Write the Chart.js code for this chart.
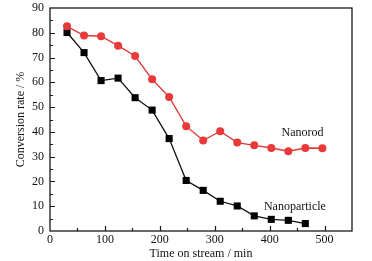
<!DOCTYPE html>
<html>
<head>
<meta charset="utf-8">
<script src="https://cdn.jsdelivr.net/npm/chart.js@4"></script>
<style>
  html, body { margin: 0; padding: 0; background: #fff; }
  #wrap { width: 372px; height: 261px; }
</style>
</head>
<body>
<div id="wrap"><canvas id="conv"></canvas></div>
<script>
var timeMin = [31, 62, 93, 124, 155, 186, 217, 248, 279, 310, 341, 372, 403, 434, 465, 496];
var nanorod = [82.6, 78.9, 78.6, 74.8, 70.6, 61.2, 54.1, 42.3, 36.5, 40.3, 35.7, 34.6, 33.5, 32.2, 33.5, 33.4];
var nanoparticle = [80.1, 72.0, 60.7, 61.7, 53.8, 48.8, 37.3, 20.4, 16.4, 12.0, 10.1, 6.1, 4.7, 4.3, 3.0];
var xTicks = [0, 100, 200, 300, 400, 500];
var yTicks = [0, 10, 20, 30, 40, 50, 60, 70, 80, 90];
var seriesLabels = ['Nanorod', 'Nanoparticle'];

var font = "'Liberation Serif', 'Times New Roman', serif";

function pairs(xs, ys) {
    return ys.map(function(v, i) { return {x: xs[i], y: v}; });
}

// frame, inside ticks and the two curve labels
var framePlugin = {
    id: 'frame',
    afterDraw: function(chart) {
        var ctx = chart.ctx, a = chart.chartArea;
        var xs = chart.scales.x, ys = chart.scales.y;
        ctx.save();
        ctx.strokeStyle = '#1a1a1a';
        ctx.lineWidth = 1.3;
        ctx.strokeRect(a.left, a.top, a.right - a.left, a.bottom - a.top);
        ctx.lineWidth = 1.2;
        ctx.beginPath();
        for (var v = 50; v <= 500; v += 50) {
            var px = Math.round(xs.getPixelForValue(v)) + 0.5;
            var len = (v % 100 === 0) ? 5 : 3;
            ctx.moveTo(px, a.bottom);
            ctx.lineTo(px, a.bottom - len);
        }
        for (var w = 5; w < 90; w += 5) {
            var py = Math.round(ys.getPixelForValue(w)) + 0.5;
            var l = (w % 10 === 0) ? 5 : 3;
            ctx.moveTo(a.left, py);
            ctx.lineTo(a.left + l, py);
        }
        ctx.stroke();

        ctx.fillStyle = '#111';
        ctx.font = '12px ' + font;
        ctx.textAlign = 'center';
        ctx.textBaseline = 'middle';
        ctx.fillText(seriesLabels[0], xs.getPixelForValue(460), ys.getPixelForValue(39.6));
        ctx.fillText(seriesLabels[1], xs.getPixelForValue(446), ys.getPixelForValue(9.8));
        ctx.restore();
    }
};

new Chart(document.getElementById('conv'), {
    type: 'line',
    plugins: [framePlugin],
    data: {
        datasets: [{
            label: seriesLabels[0],
            data: pairs(timeMin, nanorod),
            borderColor: '#e03434',
            backgroundColor: '#e83a3a',
            borderWidth: 1.3,
            pointStyle: 'circle',
            pointRadius: 4,
            pointBorderWidth: 0,
            tension: 0
        }, {
            label: seriesLabels[1],
            data: pairs(timeMin, nanoparticle),
            borderColor: '#111',
            backgroundColor: '#000',
            borderWidth: 1.3,
            pointStyle: 'rect',
            pointRadius: 5,
            pointBorderWidth: 0,
            tension: 0
        }]
    },
    options: {
        responsive: true,
        maintainAspectRatio: false,
        animation: false,
        layout: { padding: { top: 8, right: 20, left: 0, bottom: 0 } },
        plugins: {
            legend: { display: false },
            tooltip: { enabled: false }
        },
        scales: {
            x: {
                type: 'linear',
                min: 0,
                max: 550,
                afterBuildTicks: function(s) { s.ticks = xTicks.map(function(v) { return {value: v}; }); },
                afterFit: function(s) { s.height = 30; s.paddingLeft = 0; s.paddingRight = 0; },
                grid: { display: false, drawTicks: false },
                border: { display: false },
                ticks: { color: '#111', padding: 2, maxRotation: 0, font: { family: font, size: 12 } },
                title: { display: true, text: 'Time on stream / min', color: '#111', padding: { top: 0, bottom: 0 },
                    font: { family: font, size: 12 } }
            },
            y: {
                type: 'linear',
                min: 0,
                max: 90,
                afterBuildTicks: function(s) { s.ticks = yTicks.map(function(v) { return {value: v}; }); },
                afterFit: function(s) { s.width = 50; s.paddingTop = 0; s.paddingBottom = 0; },
                grid: { display: false, drawTicks: false },
                border: { display: false },
                ticks: { color: '#111', padding: 6, font: { family: font, size: 12 } },
                title: { display: true, text: 'Conversion rate / %', color: '#111', padding: { top: 14, bottom: 0 },
                    font: { family: font, size: 12 } }
            }
        }
    }
});
</script>
</body>
</html>
